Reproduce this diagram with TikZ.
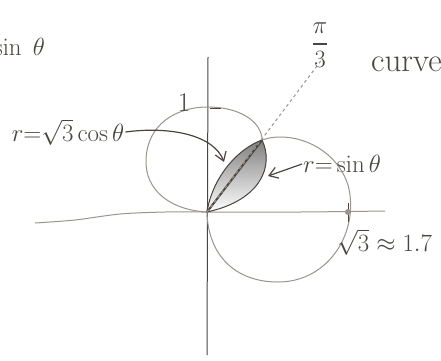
\documentclass[tikz,border=0pt]{standalone}
\usepackage{amsmath,amssymb}
\usepackage{xcolor}
\usetikzlibrary{arrows.meta,positioning}
\definecolor{lead}{HTML}{4A4540}
\definecolor{soft}{HTML}{9A948C}
\definecolor{shade}{HTML}{B4AEA6}

\begin{document}
\begin{tikzpicture}[x=1pt, y=-1pt,
  font=\fontsize{27}{30}\selectfont,
  pencil/.style={draw=lead, line width=1pt},
  faint/.style={draw=soft, line width=1pt},
  lbl/.style={text=lead, inner sep=1pt},
  arr/.style={-{Straight Barb[length=3mm,width=4mm]}, line width=1.2pt, lead}
]
  \useasboundingbox (0,0) rectangle (441,360);
  \coordinate (O) at (207,212);
  \coordinate (P) at (262,140);
  \coordinate (ray) at (323,58);
  \coordinate (cosTip) at (224,162);
  \coordinate (sinTip) at (268,176);

  % shaded lens
  \fill[shade] (O) .. controls (212,180) and (235,150) .. (P)
    .. controls (274,165) and (262,200) .. (O);

  % axes
  \draw[pencil] (208,57) -- (207,355);
  \draw[faint] plot[smooth] coordinates {(35,223) (75,220) (120,214) (165,212) (207,212) (300,212) (385,211)};

  % the two circles
  \draw[faint] (O) .. controls (170,210) and (145,190) .. (146,160)
    .. controls (147,125) and (175,107) .. (208,107)
    .. controls (240,107) and (262,122) .. (P);
  \draw[pencil] (P) .. controls (274,165) and (262,200) .. (O);
  \draw[pencil] (O) .. controls (212,180) and (235,150) .. (P);
  \draw[faint] (P) .. controls (290,130) and (335,145) .. (348,185)
    .. controls (360,230) and (330,282) .. (278,282)
    .. controls (235,282) and (208,255) .. (O);
  \draw[lead, line width=2pt] (O) -- (P);
  \draw[faint, dashed] (O) -- (ray);

  % ticks
  \draw[pencil] (210,108) -- (221,108);
  \draw[pencil] (348,203) -- (348,222);
  \fill[soft] (348,212) circle (3);

  % labels
  \node[lbl, anchor=east] (sinc) at (46,47) {$\sin\;\theta$};
  \node[lbl] (third) at (320,45) {$\dfrac{\pi}{3}$};
  \node[lbl, anchor=west, font=\fontsize{33}{36}\selectfont] (crv) at (370,64) {curve};
  \node[lbl] (one) at (184,103) {1};
  \node[lbl] (cosl) at (68,132) {$r{=}\sqrt{3}\cos\theta$};
  \node[lbl, anchor=west] (sinl) at (302,164) {$r{=}\sin\theta$};
  \node[lbl, anchor=west] (sq) at (336,242) {$\sqrt{3}\approx 1.7$};

  % arrows
  \draw[arr] (cosl.east) .. controls (170,126) and (214,135) .. (cosTip);
  \draw[arr] (sinl.west) -- (sinTip);
\end{tikzpicture}
\end{document}
